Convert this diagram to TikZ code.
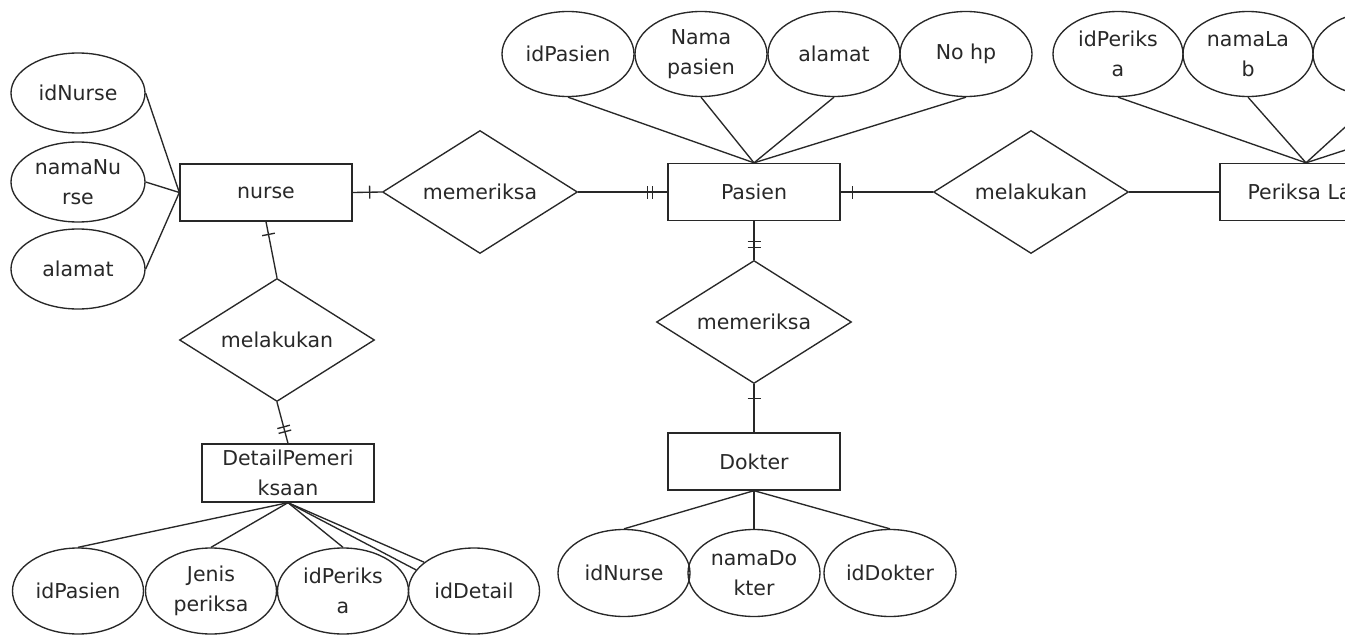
\documentclass[tikz,border=0pt]{standalone}
\usepackage{fontspec}
\setmainfont{DejaVu Sans}
\usetikzlibrary{shapes.geometric,decorations.markings}
\definecolor{ink}{RGB}{40,40,40}
\tikzset{
  base/.style={draw=ink, text=ink, font=\fontsize{20.5}{30}\selectfont, align=center, inner sep=0pt},
  entity/.style={base, rectangle, minimum width=172, minimum height=57},
  attr/.style={base, ellipse, minimum width=132, minimum height=85},
  rel/.style={base, diamond, aspect=1.58, minimum width=195, minimum height=123},
  onebar/.style={postaction={decorate,decoration={markings,
      mark=at position #1 with {\draw (0,-6.5pt) -- (0,6.5pt);}}}},
  twobar/.style 2 args={postaction={decorate,decoration={markings,
      mark=at position #1 with {\draw (0,-6.5pt) -- (0,6.5pt);},
      mark=at position #2 with {\draw (0,-6.5pt) -- (0,6.5pt);}}}},
}
\begin{document}
\begin{tikzpicture}[x=1pt, y=-1pt, line width=1.35pt, draw=ink]
  \fill[white] (0,0) rectangle (1345,637);
  \clip (0,0) rectangle (1345,637);

  % entities
  \node[entity] (nurse)  at (266,192.5) {nurse};
  \node[entity] (pasien) at (754,192)   {Pasien};
  \node[entity] (lab)    at (1306,192)  {Periksa Lab};
  \node[entity] (dokter) at (754,461.5) {Dokter};
  \node[entity, minimum height=58] (detail) at (288,473) {DetailPemeri\\ksaan};

  % relationships
  \node[rel] (r1) at (480,192)  {memeriksa};
  \node[rel] (r2) at (1031,192) {melakukan};
  \node[rel] (r3) at (754,322)  {memeriksa};
  \node[rel] (r4) at (277,340)  {melakukan};

  % nurse attributes
  \node[attr, minimum width=134, minimum height=80] (nId)   at (78,93)  {idNurse};
  \node[attr, minimum width=134, minimum height=80] (nNama) at (78,182) {namaNu\\rse};
  \node[attr, minimum width=134, minimum height=80] (nAl)   at (78,269) {alamat};

  % pasien attributes
  \node[attr] (pId)   at (568,54) {idPasien};
  \node[attr] (pNama) at (701,54) {Nama\\pasien};
  \node[attr] (pAl)   at (834,54) {alamat};
  \node[attr] (pHp)   at (966,54) {No hp};

  % periksa lab attributes
  \node[attr, minimum width=130] (lId)   at (1118,54) {idPeriks\\a};
  \node[attr, minimum width=130] (lNama) at (1248,54) {namaLa\\b};
  \node[attr, minimum width=130] (lC)    at (1378,54) {};
  \node[attr, minimum width=130] (lD)    at (1508,54) {};

  % dokter attributes
  \node[attr, minimum height=87] (dNurse) at (624,573) {idNurse};
  \node[attr, minimum height=87] (dNama)  at (754,573) {namaDo\\kter};
  \node[attr, minimum height=87] (dId)    at (890,573) {idDokter};

  % detail pemeriksaan attributes
  \node[attr, minimum width=131, minimum height=86] (ePas)  at (78,591)  {idPasien};
  \node[attr, minimum width=131, minimum height=86] (eJen)  at (211,591) {Jenis\\periksa};
  \node[attr, minimum width=131, minimum height=86] (ePer)  at (343,591) {idPeriks\\a};
  \node[attr, minimum width=131, minimum height=86] (eDet)  at (474,591) {idDetail};

  % attribute links
  \foreach \a in {nId,nNama,nAl} \draw (nurse.west) -- (\a.east);
  \foreach \a in {pId,pNama,pAl,pHp} \draw (pasien.north) -- (\a.south);
  \foreach \a in {lId,lNama,lC,lD} \draw (lab.north) -- (\a.south);
  \foreach \a in {dNurse,dNama,dId} \draw (dokter.south) -- (\a.north);
  \foreach \a in {ePas,eJen,ePer} \draw (detail.south) -- (\a.north);
  \draw (detail.south) -- (eDet.150);
  \draw (detail.south) -- (eDet.160);

  % relationship links with cardinality bars
  \draw[onebar=17pt] (nurse.east) -- (r1.west);
  \draw[twobar={-20pt}{-15pt}] (r1.east) -- (pasien.west);
  \draw[onebar=12pt] (pasien.east) -- (r2.west);
  \draw (r2.east) -- (lab.west);
  \draw[twobar={20pt}{26pt}] (pasien.south) -- (r3.north);
  \draw[onebar=14pt] (r3.south) -- (dokter.north);
  \draw[onebar=13pt] (nurse.south) -- (r4.north);
  \draw[twobar={-17pt}{-12pt}] (r4.south) -- (detail.north);
\end{tikzpicture}
\end{document}
